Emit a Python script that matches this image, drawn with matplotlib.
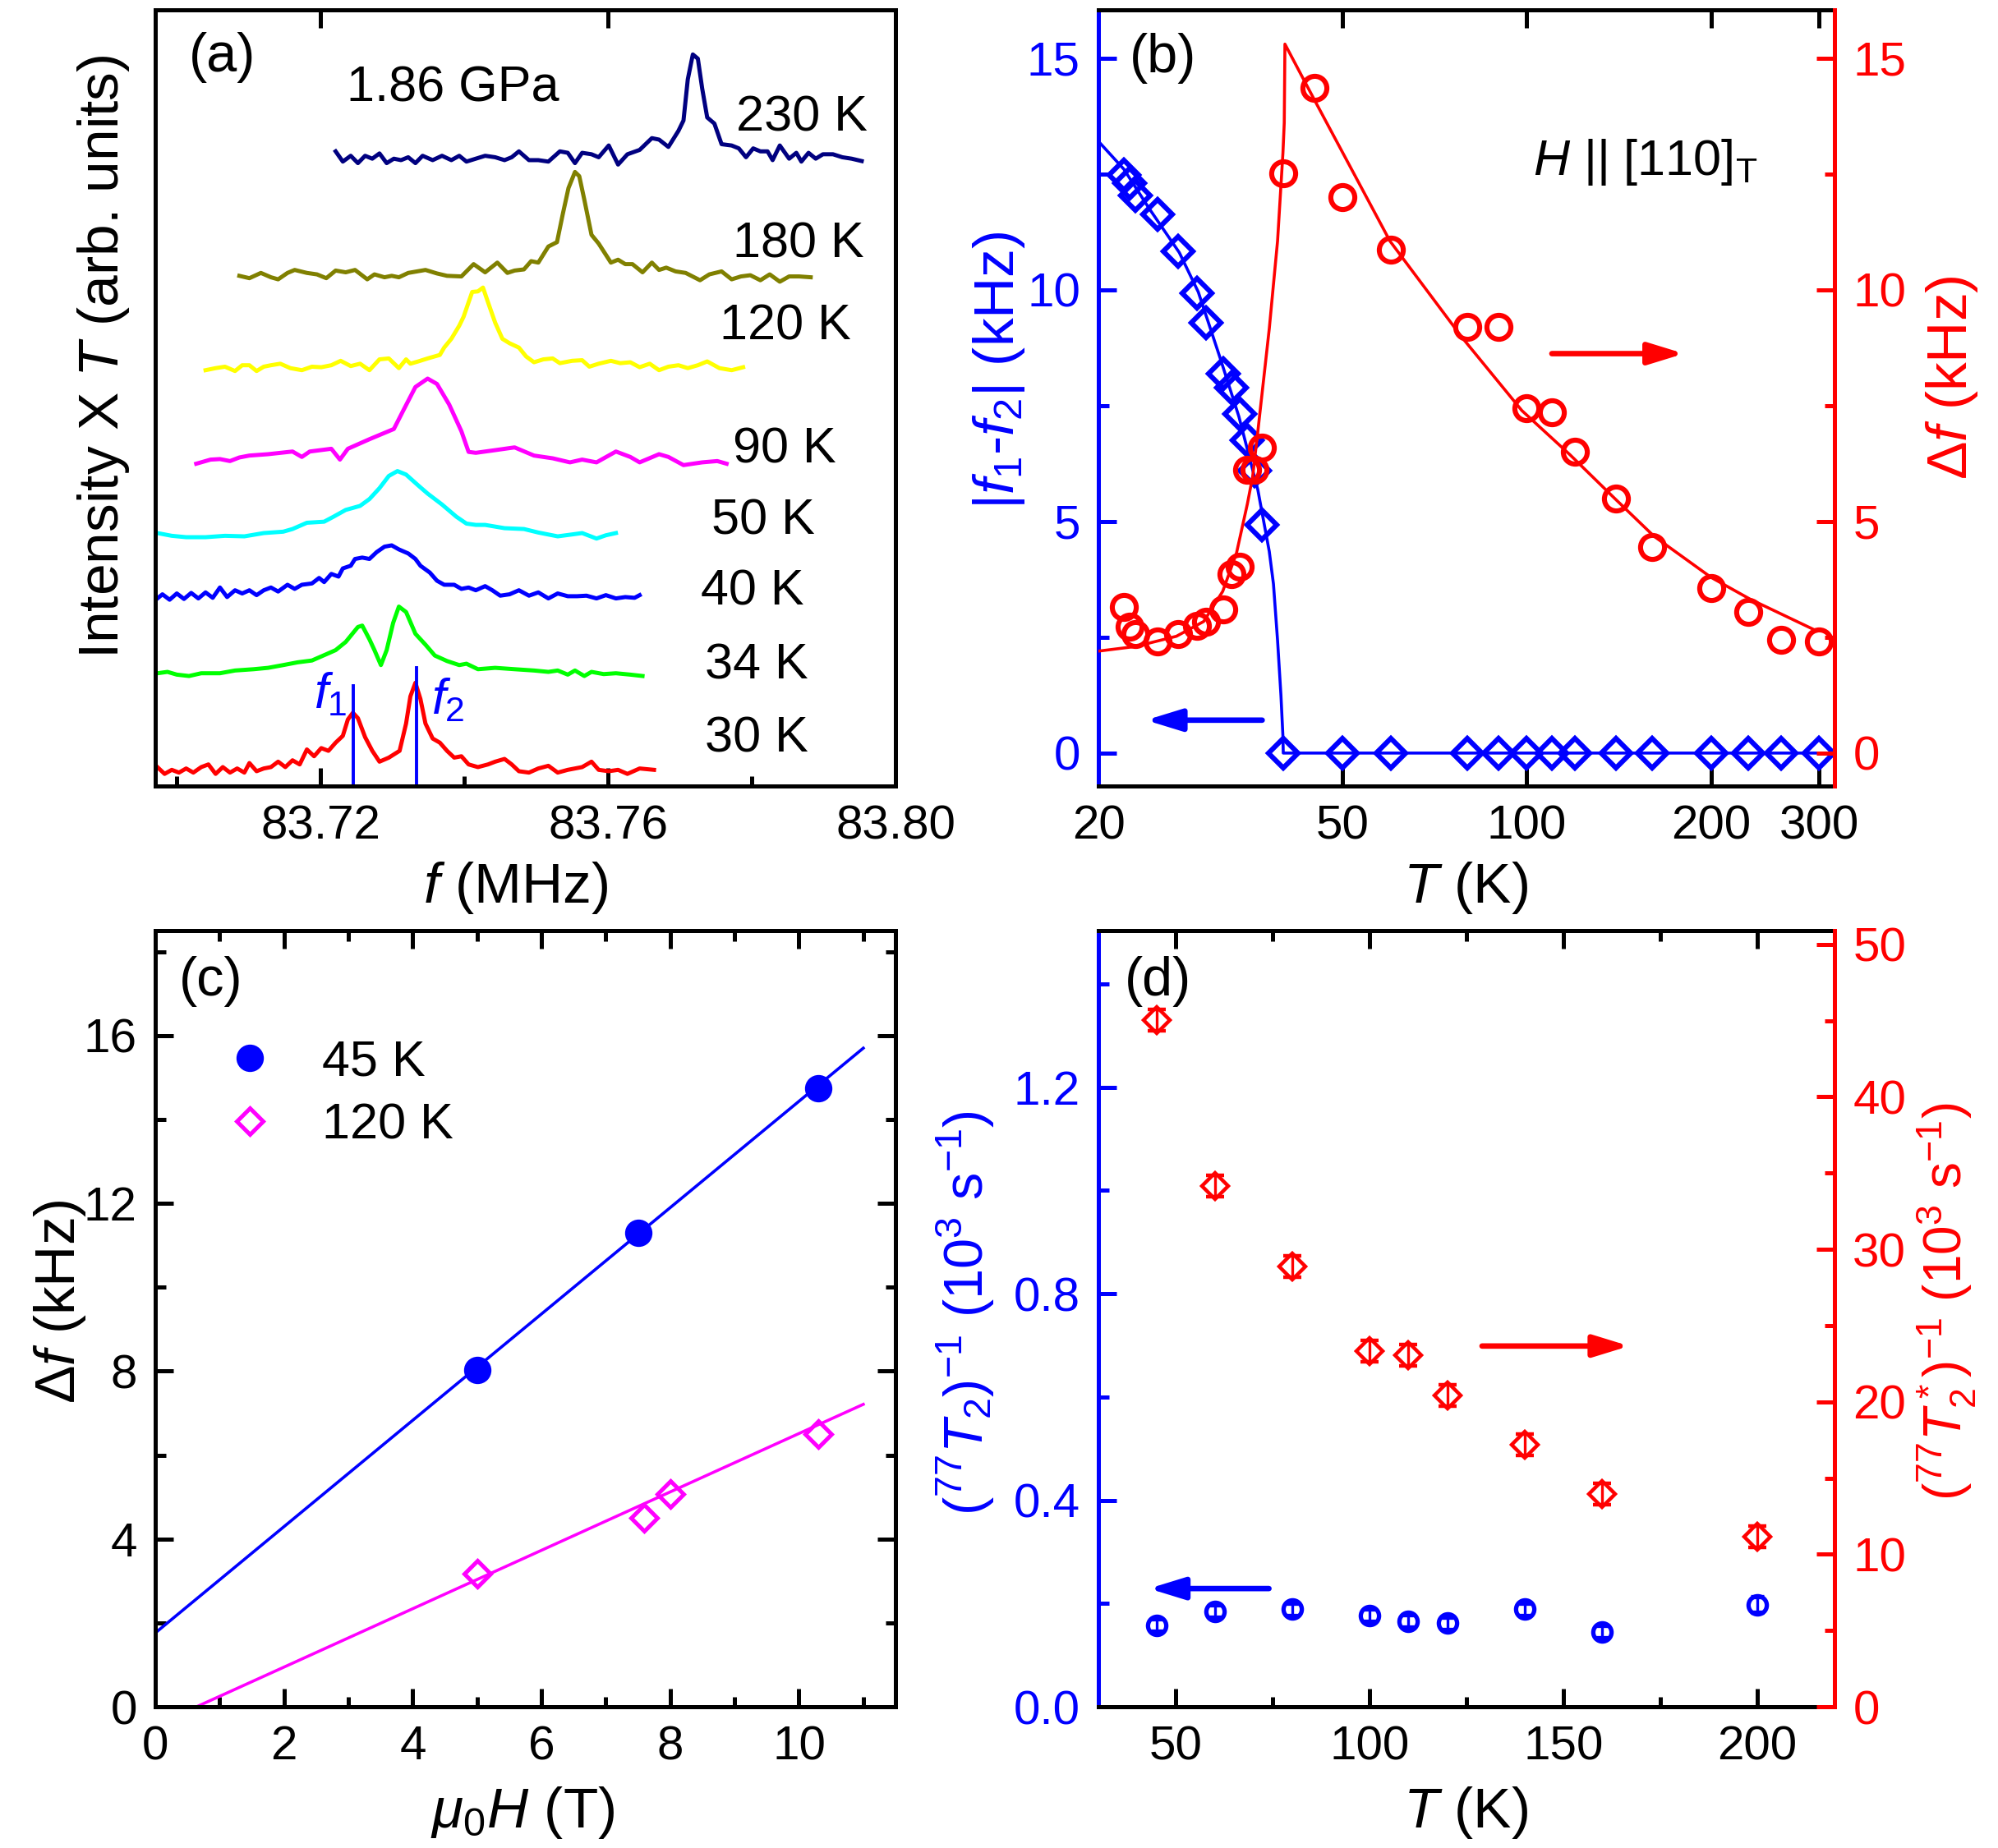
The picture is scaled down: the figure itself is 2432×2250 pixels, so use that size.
import matplotlib
matplotlib.use('Agg')
import matplotlib.pyplot as plt
from matplotlib.ticker import FixedLocator, MultipleLocator, NullLocator, FormatStrFormatter
import numpy as np

plt.rcParams['font.family'] = ['Liberation Sans', 'DejaVu Sans']
plt.rcParams['mathtext.fontset'] = 'custom'
plt.rcParams['mathtext.rm'] = 'Liberation Sans'
plt.rcParams['mathtext.it'] = 'Liberation Sans:italic'
plt.rcParams['mathtext.bf'] = 'Liberation Sans:bold'
plt.rcParams['axes.linewidth'] = 1.8

TICK = 21
LAB = 25

# ---------------- (a) spectra: offset from 83.70 MHz in kHz, intensity relative to own baseline
k230 = [22.1, 23.1, 24.2, 25.2, 26.2, 27.2, 28.2, 29.2, 30.2, 31.2, 32.2, 33.2, 34.2, 35.6, 36.9, 38.2, 39.3,
        40.3, 41.6, 42.9, 44.3, 45.6, 46.6, 47.6, 49.0, 50.3, 51.7, 53.3, 54.4, 55.4, 56.4, 57.7, 58.7, 60.1,
        61.4, 62.7, 64.4, 66.1, 67.1, 68.4, 69.8, 70.5, 71.1, 71.8, 72.5, 73.1, 73.8, 74.8, 75.8, 77.2, 78.2,
        79.2, 80.2, 81.2, 82.2, 82.9, 83.9, 85.2, 86.2, 86.9, 87.9, 88.9, 89.9, 91.3, 92.6, 93.9, 95.3]
s230 = [0.96, -0.38, 0.38, -0.58, 0.38, 0, 0.69, -0.58, 0, -0.19, 0.19, -0.58, 0.38, -0.19, 0.38, -0.19, 0.38,
        -0.38, 0, 0.38, 0.19, -0.19, 0.19, 0.96, -0.19, -0.19, -0.38, 0.96, 0.77, -0.58, 0.77, 0.58, 0.19, 1.73,
        -0.77, 0.58, 1.15, 2.69, 2.5, 1.54, 3.65, 5.0, 10.4, 13.65, 13.1, 9.2, 5.4, 4.6, 1.9, 1.73, 1.35,
        0.19, 1.35, 0.96, 0.96, -0.19, 1.73, 0, 0.77, -0.38, 0.77, 0, 0.58, 0.58, 0.19, 0, -0.31]

k180 = [8.7, 10.1, 11.7, 13.1, 14.1, 15.4, 16.4, 18.1, 19.5, 20.8, 22.1, 23.5, 24.8, 26.5, 27.5, 28.9, 29.9,
        30.9, 32.2, 34.6, 36.2, 37.6, 39.6, 41.3, 42.9, 44.6, 46.0, 47.0, 48.3, 49.3, 50.3, 51.7, 52.9, 53.7,
        54.5, 55.4, 56.0, 56.7, 57.7, 58.7, 60.4, 61.4, 62.4, 63.4, 64.8, 66.1, 67.1, 68.1, 69.4, 70.8, 72.8,
        74.1, 75.8, 77.2, 78.5, 79.8, 81.2, 82.5, 83.9, 85.2, 86.6, 88.2]
s180 = [0, -0.31, 0.38, -0.19, -0.46, 0.38, 0.77, 0.38, 0.19, -0.31, 0.69, 0.46, 0.77, -0.46, 0.19, -0.19, 0,
        -0.19, 0.38, 0.77, 0.31, 0, -0.08, 1.53, 0.46, 1.73, 0.38, 0.69, 0.84, 1.92, 1.73, 3.84, 4.41, 8.06,
        11.5, 13.6, 13.05, 9.98, 5.37, 4.22, 1.73, 2.11, 1.53, 1.53, 0.46, 1.73, 0.77, 1.07, 0.58, 0.38, -0.58,
        0.19, 0.58, -0.46, -0.08, 0.08, -0.58, 0.19, -0.77, -0.08, -0.08, -0.19]

k120 = [4.0, 5.4, 6.7, 8.1, 9.1, 10.1, 11.1, 12.1, 13.1, 14.4, 15.8, 17.4, 18.8, 20.1, 21.5, 22.8, 24.2, 25.5,
        26.8, 28.2, 29.5, 30.9, 31.9, 32.5, 33.6, 34.9, 36.6, 37.2, 38.2, 39.3, 39.9, 40.6, 41.1, 41.9, 42.6,
        43.3, 44.3, 45.3, 46.3, 47.6, 48.6, 49.7, 51.0, 52.3, 53.3, 55.0, 56.4, 57.4, 58.7, 60.4, 61.7, 63.1,
        64.4, 65.8, 67.1, 68.4, 69.8, 71.1, 72.5, 73.8, 75.5, 77.2, 78.8]
s120 = [-0.27, 0, 0.19, -0.38, 0.38, 0.38, -0.38, 0.19, 0.38, 0.58, 0, -0.27, 0.19, 0.12, 0.38, 0.96, 0.27, 0.58,
        -0.27, 1.15, 1.27, 0, 1.15, 0.58, 0.88, 1.27, 1.73, 2.69, 3.84, 5.56, 6.72, 8.63, 9.98, 10.05, 10.55,
        8.63, 5.95, 3.84, 3.26, 2.69, 1.53, 0.77, 1.15, 1.27, 0.65, 0.96, 1.04, 0.19, 0.58, 0.96, 0.65, 0.77,
        0.12, 0.58, -0.27, 0.19, 0.38, 0, 0.38, 0.88, 0, -0.27, 0.12]

k90 = [2.7, 4.7, 6.0, 7.4, 8.7, 10.1, 12.7, 16.1, 17.4, 18.5, 21.5, 22.7, 23.8, 26.8, 30.2, 31.5, 33.2, 34.9,
       36.2, 37.9, 39.6, 40.6, 41.6, 44.3, 47.0, 49.7, 52.3, 54.7, 56.4, 58.4, 61.1, 63.1, 64.4, 67.1, 68.4,
       70.5, 73.1, 75.2, 76.5]
s90 = [-0.35, 0.19, 0.26, 0.0, 0.47, 0.72, 0.9, 1.25, 0.54, 1.25, 1.61, 0.19, 1.61, 2.86, 4.2, 6.6, 9.7, 10.8,
       10.1, 7.4, 3.9, 1.2, 1.08, 1.43, 1.79, 0.72, 0.36, -0.17, 0.19, -0.17, 1.25, 0.54, -0.17, 0.9, 0.54,
       -0.53, -0.17, 0.0, -0.35]

k50 = [-2.7, -0.7, 1.3, 4.0, 6.7, 9.4, 12.1, 14.8, 16.1, 18.1, 20.5, 21.8, 23.5, 25.5, 26.8, 28.2, 29.5, 30.7,
       31.9, 33.6, 34.9, 36.9, 38.9, 40.3, 41.6, 42.9, 45.6, 48.3, 50.3, 53.0, 55.0, 56.4, 58.4, 59.7, 61.1]
s50 = [0.43, 0.07, -0.11, -0.11, 0.07, 0, 0.43, 0.61, 0.96, 1.78, 1.92, 2.57, 3.46, 3.99, 4.88, 6.31, 7.91, 8.55,
       8.09, 6.66, 5.6, 4.17, 2.57, 1.67, 1.5, 1.5, 1.07, 0.96, 0.5, 0, 0.25, 0.43, -0.29, 0.14, 0.43]

k40 = [-2.7, -2.0, -1.0, 0, 1.0, 2.0, 3.0, 4.0, 5.0, 6.0, 7.0, 8.1, 9.1, 10.1, 11.1, 12.1, 13.1, 14.1, 15.4,
       16.4, 17.4, 18.8, 19.8, 20.5, 21.5, 22.5, 23.1, 24.2, 24.8, 25.8, 26.8, 27.8, 28.9, 29.9, 30.9, 32.2,
       33.2, 33.9, 35.2, 36.2, 37.2, 38.6, 39.6, 40.6, 41.6, 42.9, 43.9, 45.0, 46.3, 47.6, 49.0, 50.3, 51.7,
       53.0, 54.4, 55.7, 57.0, 58.4, 59.7, 61.1, 62.4, 63.7, 64.4]
s40 = [-0.29, 0.25, -0.46, 0.36, -0.36, 0.43, -0.29, 0.5, -0.21, 1.14, -0.11, 0.78, 0.36, 0.78, 0.14, 0.78, 1.14,
       0.61, 1.5, 0.96, 1.5, 1.67, 2.39, 1.85, 2.92, 2.57, 3.64, 3.99, 4.88, 5.06, 4.88, 5.77, 6.49, 6.66, 6.13,
       5.6, 4.88, 3.99, 3.1, 2.03, 1.5, 1.5, 0.96, 1.14, 0.78, 1.32, 0.78, 0.07, 0.25, 0.78, 0.07, 0.5, -0.29,
       0.36, 0, 0, 0.07, -0.29, 0.14, -0.29, -0.11, -0.21, 0.14]

k34 = [-2.7, -1.3, 0, 1.7, 3.4, 6.0, 8.1, 10.7, 12.7, 14.8, 16.8, 18.8, 20.8, 22.1, 23.5, 25.2, 25.8, 26.8,
       27.5, 28.4, 29.2, 30.1, 30.9, 31.9, 33.2, 34.6, 35.9, 37.6, 39.3, 40.3, 41.9, 44.3, 47.0, 49.7, 51.7,
       53.0, 54.4, 55.4, 56.7, 57.7, 59.4, 61.1, 63.1, 64.8]
s34 = [0, 0.18, -0.18, -0.36, 0, 0, 0.36, 0.53, 0.71, 1.07, 1.43, 1.67, 2.49, 3.03, 4.1, 6.06, 6.24, 4.45, 3.03,
       1.07, 3.03, 6.59, 8.73, 8.02, 5.17, 3.74, 2.32, 1.6, 1.07, 1.25, 0.53, 0.71, 0.53, 0.36, 0.18, 0.36,
       -0.18, 0.36, -0.36, 0.18, -0.11, 0, -0.18, -0.36]

k30 = [-2.7, -1.7, -0.7, 0.3, 1.3, 2.3, 3.4, 4.4, 5.4, 6.4, 7.4, 8.4, 9.4, 10.1, 11.1, 12.1, 13.1, 14.1, 15.1,
       16.1, 17.1, 18.1, 19.1, 20.1, 21.1, 22.1, 23.1, 23.8, 24.5, 25.2, 26.2, 27.2, 28.2, 29.5, 31.0, 31.9,
       32.5, 33.2, 33.9, 34.6, 35.6, 36.6, 37.6, 38.6, 39.6, 40.6, 41.9, 43.3, 44.3, 45.6, 46.6, 47.6, 49.0,
       50.3, 51.7, 53.0, 54.4, 56.4, 57.7, 58.7, 60.1, 61.4, 62.7, 64.4, 66.4]
s30 = [0.36, -0.53, 0, -0.36, 0.18, -0.36, 0.36, 0.71, -0.53, 0.36, -0.36, 0.18, -0.36, 0.89, -0.18, 0.18, 0.36,
       1.07, 0.36, 1.25, 0.71, 2.67, 1.78, 2.85, 2.49, 3.56, 4.45, 6.59, 7.48, 6.77, 4.28, 2.49, 1.07, 1.6, 2.49,
       6.06, 9.62, 11.4, 9.27, 6.06, 4.1, 3.56, 2.49, 1.6, 1.78, 0.71, 0.36, 0.71, 1.07, 1.43, 0.71, -0.18,
       -0.36, 0.18, 0.53, -0.36, 0, 0.36, 1.07, 0, -0.18, 0, -0.53, 0.18, 0]

spec_labels = ['230 K', '180 K', '120 K', '90 K', '50 K', '40 K', '34 K', '30 K']
spec_offsets = [80.6, 65.26, 53.17, 41.0, 31.14, 23.3, 13.21, 0.56]
spec_colors = ['#000080', '#808000', '#ffff00', '#ff00ff', '#00ffff', '#0000ff', '#00ff00', '#ff0000']
spec_k = [k230, k180, k120, k90, k50, k40, k34, k30]
spec_s = [s230, s180, s120, s90, s50, s40, s34, s30]
f1_line = 83.7245
f2_line = 83.7333

# ---------------- (b) splitting and linewidth vs T
T_split = [22, 22.5, 23, 25, 27, 29, 30, 32, 33, 34, 35, 36, 37,
           40, 50, 60, 80, 90, 100, 110, 120, 140, 160, 200, 230, 260, 300]
split = [12.48, 12.29, 12.04, 11.62, 10.83, 9.92, 9.28, 8.18, 7.89, 7.32, 6.75, 6.1, 4.92,
         0, 0, 0, 0, 0, 0, 0, 0, 0, 0, 0, 0, 0, 0]
T_df = [22, 22.5, 23, 25, 27, 29, 30, 32, 33, 34, 35, 36, 37,
        40, 45, 50, 60, 80, 90, 100, 110, 120, 140, 160, 200, 230, 260, 300]
df = [3.15, 2.73, 2.56, 2.40, 2.56, 2.75, 2.84, 3.10, 3.87, 4.02, 6.12, 6.12, 6.6,
      12.51, 14.36, 12.0, 10.86, 9.19, 9.19, 7.45, 7.35, 6.5, 5.49, 4.44, 3.56, 3.05, 2.44, 2.40]
fitT_split = [20.0, 22.0, 24.2, 27.1, 29.1, 31.6, 33.9, 36.4, 38.0, 38.6, 39.2, 39.7, 40.0, 40.05, 318]
fit_split = [13.2, 12.6, 11.75, 10.8, 9.95, 8.52, 7.26, 5.68, 4.35, 3.65, 2.43, 1.25, 0.36, 0.0, 0.0]
fitT_df = [20.0, 23.0, 26.8, 29.7, 31.9, 33.6, 35.0, 35.7, 36.4, 38.0, 39.2, 40.0, 40.2, 40.3, 44.8, 52.2,
           59.8, 78.4, 98.2, 117.6, 139.3, 161.3, 200, 231.6, 296.9]
fit_df = [2.2, 2.3, 2.52, 2.84, 3.49, 4.32, 5.38, 5.97, 6.94, 9.16, 11.05, 12.95, 13.6, 15.3, 14.15, 12.51,
          11.05, 8.97, 7.39, 6.44, 5.49, 4.68, 3.79, 3.32, 2.64]

# ---------------- (c) linewidth vs field
H45 = [5.0, 7.5, 10.3]
df45 = [8.02, 11.29, 14.74]
H120 = [5.0, 7.6, 8.0, 10.3]
df120 = [3.17, 4.51, 5.07, 6.5]
fitH45 = [0.0, 11.0]
fit45 = [1.76, 15.7]
fitH120 = [0.64, 11.0]
fit120 = [0.0, 7.21]

# ---------------- (d) relaxation rates
T_d = [45, 60, 80, 100, 110, 120, 140, 160, 200]
invT2 = [0.158, 0.185, 0.189, 0.177, 0.166, 0.162, 0.189, 0.145, 0.198]
err_invT2 = [0.012, 0.012, 0.012, 0.012, 0.012, 0.012, 0.012, 0.012, 0.015]
invT2s = [45.06, 34.16, 28.87, 23.35, 23.04, 20.43, 17.2, 13.93, 11.17]
err_invT2s = [0.7, 0.7, 0.7, 0.7, 0.7, 0.7, 0.7, 0.7, 0.7]


def style_ticks(ax):
    ax.tick_params(which='both', direction='in', width=1.8, labelsize=TICK, pad=8)
    ax.tick_params(which='major', length=8)
    ax.tick_params(which='minor', length=4.5)


arrow_kw = dict(arrowstyle='-|>,head_length=1.3,head_width=0.4', lw=2.4, shrinkA=0, shrinkB=0)

fig = plt.figure(figsize=(12.16, 11.25), dpi=200)

# ======================= (a)
ax_a = fig.add_axes([0.0777, 0.5747, 0.3705, 0.42])
for k, s, off, c in zip(spec_k, spec_s, spec_offsets, spec_colors):
    ax_a.plot(83.70 + np.array(k) / 1000.0, off + np.array(s), color=c, lw=1.8)
ax_a.plot([f1_line, f1_line], [-2, 11.6], color='blue', lw=1.4)
ax_a.plot([f2_line, f2_line], [-2, 13.9], color='blue', lw=1.4)
ax_a.set_xlim(83.697, 83.80)
ax_a.set_ylim(-1.55, 100.1)
ax_a.set_yticks([])
ax_a.xaxis.set_major_locator(FixedLocator([83.72, 83.76, 83.80]))
ax_a.xaxis.set_minor_locator(FixedLocator([83.70, 83.74, 83.78]))
ax_a.xaxis.set_major_formatter(FormatStrFormatter('%.2f'))
style_ticks(ax_a)
ax_a.tick_params(top=True)
ax_a.set_xlabel(r'$f$ (MHz)', fontsize=LAB)
ax_a.xaxis.set_label_coords(0.487, -0.095)
ax_a.set_ylabel(r'Intensity X $T$ (arb. units)', fontsize=LAB)
ax_a.yaxis.set_label_coords(-0.032, 0.553)
label_y = [0.860, 0.697, 0.591, 0.433, 0.341, 0.2495, 0.154, 0.0607]
label_x = [0.785, 0.780, 0.763, 0.780, 0.751, 0.737, 0.742, 0.742]
for lab, lx, ly in zip(spec_labels, label_x, label_y):
    ax_a.text(lx, ly, lab, transform=ax_a.transAxes, fontsize=22, ha='left', va='center')
ax_a.text(0.2585, 0.898, '1.86 GPa', transform=ax_a.transAxes, fontsize=22, ha='left', va='center')
ax_a.text(0.045, 0.939, '(a)', transform=ax_a.transAxes, fontsize=24, ha='left', va='center')
ax_a.text(0.237, 0.1167, r'$f_1$', transform=ax_a.transAxes, fontsize=22, color='blue', ha='center', va='center')
ax_a.text(0.396, 0.109, r'$f_2$', transform=ax_a.transAxes, fontsize=22, color='blue', ha='center', va='center')

# ======================= (b)
ax_b = fig.add_axes([0.5498, 0.5747, 0.3684, 0.42])
ax_b.set_xscale('log')
ax_b.plot(fitT_split, fit_split, color='blue', lw=1.3)
ax_b.plot(T_split, split, ls='none', marker='D', ms=9.4, mfc='none', mec='blue', mew=2.2)
ax_b.set_xlim(20, 318)
ax_b.set_ylim(-0.71, 16.04)
ax_b.xaxis.set_major_locator(FixedLocator([20, 50, 100, 200, 300]))
ax_b.xaxis.set_major_formatter(FormatStrFormatter('%d'))
ax_b.xaxis.set_minor_locator(NullLocator())
ax_b.yaxis.set_major_locator(MultipleLocator(5))
ax_b.yaxis.set_minor_locator(MultipleLocator(2.5))
style_ticks(ax_b)
ax_b.tick_params(axis='x', top=True)
ax_b.tick_params(axis='y', which='both', colors='blue', right=False)
ax_b.spines['left'].set_color('blue')
ax_b.spines['right'].set_visible(False)
ax_b.set_xlabel(r'$T$ (K)', fontsize=LAB)
ax_b.xaxis.set_label_coords(0.499, -0.095)
ax_b.set_ylabel(r'|$f_1$-$f_2$| (kHz)', fontsize=LAB, color='blue')
ax_b.yaxis.set_label_coords(-0.097, 0.536)
ax_b.annotate('', xy=(23.9, 0.71), xytext=(37.0, 0.71), arrowprops=dict(color='blue', **arrow_kw))
ax_b.text(0.042, 0.9375, '(b)', transform=ax_b.transAxes, fontsize=24, ha='left', va='center')
ax_b.text(0.59, 0.804, r'$H$ || [110]$_\mathrm{T}$', transform=ax_b.transAxes, fontsize=22,
          ha='left', va='center')

ax_b2 = ax_b.twinx()
ax_b2.plot(fitT_df, fit_df, color='red', lw=1.3)
ax_b2.plot(T_df, df, ls='none', marker='o', ms=10.5, mfc='none', mec='red', mew=2.2)
ax_b2.set_ylim(-0.71, 16.04)
ax_b2.yaxis.set_major_locator(MultipleLocator(5))
ax_b2.yaxis.set_minor_locator(MultipleLocator(2.5))
style_ticks(ax_b2)
ax_b2.tick_params(axis='y', which='both', colors='red')
for sp in ['left', 'top', 'bottom']:
    ax_b2.spines[sp].set_visible(False)
ax_b2.spines['right'].set_color('red')
ax_b2.set_ylabel(r'$\Delta f$ (kHz)', fontsize=LAB, color='red')
ax_b2.yaxis.set_label_coords(1.122, 0.526)
ax_b2.annotate('', xy=(180.6, 8.62), xytext=(109.9, 8.62), arrowprops=dict(color='red', **arrow_kw))

# ======================= (c)
ax_c = fig.add_axes([0.0777, 0.0764, 0.3705, 0.42])
ax_c.plot(fitH45, fit45, color='blue', lw=1.3)
ax_c.plot(fitH120, fit120, color='#ff00ff', lw=1.3)
ax_c.plot(H45, df45, ls='none', marker='o', ms=11, color='blue', label='45 K')
ax_c.plot(H120, df120, ls='none', marker='D', ms=8, mfc='none', mec='#ff00ff', mew=1.8, label='120 K')
ax_c.set_xlim(0, 11.5)
ax_c.set_ylim(0, 18.5)
ax_c.xaxis.set_major_locator(MultipleLocator(2))
ax_c.xaxis.set_minor_locator(MultipleLocator(1))
ax_c.yaxis.set_major_locator(MultipleLocator(4))
ax_c.yaxis.set_minor_locator(MultipleLocator(2))
style_ticks(ax_c)
ax_c.tick_params(which='both', top=True, right=True)
ax_c.set_xlabel(r'$\mu_0H$ (T)', fontsize=LAB)
ax_c.xaxis.set_label_coords(0.496, -0.1)
ax_c.set_ylabel(r'$\Delta f$ (kHz)', fontsize=LAB)
ax_c.yaxis.set_label_coords(-0.091, 0.522)
ax_c.text(0.032, 0.934, '(c)', transform=ax_c.transAxes, fontsize=24, ha='left', va='center')
ax_c.legend(loc='upper left', bbox_to_anchor=(0.094, 0.860), frameon=False, fontsize=22,
            handlelength=1.0, handletextpad=0.93, borderpad=0, borderaxespad=0, labelspacing=0.33,
            numpoints=1)

# ======================= (d)
ax_d = fig.add_axes([0.5498, 0.0764, 0.3684, 0.42])
ax_d.errorbar(T_d, invT2, yerr=err_invT2, fmt='o', ms=8, mfc='none', mec='blue', mew=1.9,
              ecolor='blue', elinewidth=1.2, capsize=3, capthick=1.2)
ax_d.set_xlim(30, 220)
ax_d.set_ylim(0, 1.503)
ax_d.xaxis.set_major_locator(MultipleLocator(50))
ax_d.xaxis.set_minor_locator(MultipleLocator(25))
ax_d.yaxis.set_major_locator(MultipleLocator(0.4))
ax_d.yaxis.set_minor_locator(MultipleLocator(0.2))
ax_d.yaxis.set_major_formatter(FormatStrFormatter('%.1f'))
style_ticks(ax_d)
ax_d.tick_params(axis='x', which='both', top=True)
ax_d.tick_params(axis='y', which='both', colors='blue', right=False)
ax_d.spines['left'].set_color('blue')
ax_d.spines['right'].set_visible(False)
ax_d.set_xlabel(r'$T$ (K)', fontsize=LAB)
ax_d.xaxis.set_label_coords(0.499, -0.1)
ax_d.set_ylabel(r'($^{77}T_2$)$^{-1}$ (10$^3$ s$^{-1}$)', fontsize=24, color='blue')
ax_d.yaxis.set_label_coords(-0.138, 0.508)
ax_d.annotate('', xy=(43.0, 0.229), xytext=(74.0, 0.229), arrowprops=dict(color='blue', **arrow_kw))
ax_d.text(0.035, 0.934, '(d)', transform=ax_d.transAxes, fontsize=24, ha='left', va='center')

ax_d2 = ax_d.twinx()
ax_d2.errorbar(T_d, invT2s, yerr=err_invT2s, fmt='D', ms=7.9, mfc='none', mec='red', mew=1.6,
               ecolor='red', elinewidth=1.2, capsize=4, capthick=1.2)
ax_d2.set_ylim(0, 50.9)
ax_d2.yaxis.set_major_locator(MultipleLocator(10))
ax_d2.yaxis.set_minor_locator(MultipleLocator(5))
style_ticks(ax_d2)
ax_d2.tick_params(axis='y', which='both', colors='red')
for sp in ['left', 'top', 'bottom']:
    ax_d2.spines[sp].set_visible(False)
ax_d2.spines['right'].set_color('red')
ax_d2.set_ylabel(r'($^{77}T_2^*$)$^{-1}$ (10$^3$ s$^{-1}$)', fontsize=23, color='red')
ax_d2.yaxis.set_label_coords(1.108, 0.522)
ax_d2.annotate('', xy=(167.0, 23.66), xytext=(129.0, 23.66), arrowprops=dict(color='red', **arrow_kw))

fig.savefig('out.png', dpi=200)
